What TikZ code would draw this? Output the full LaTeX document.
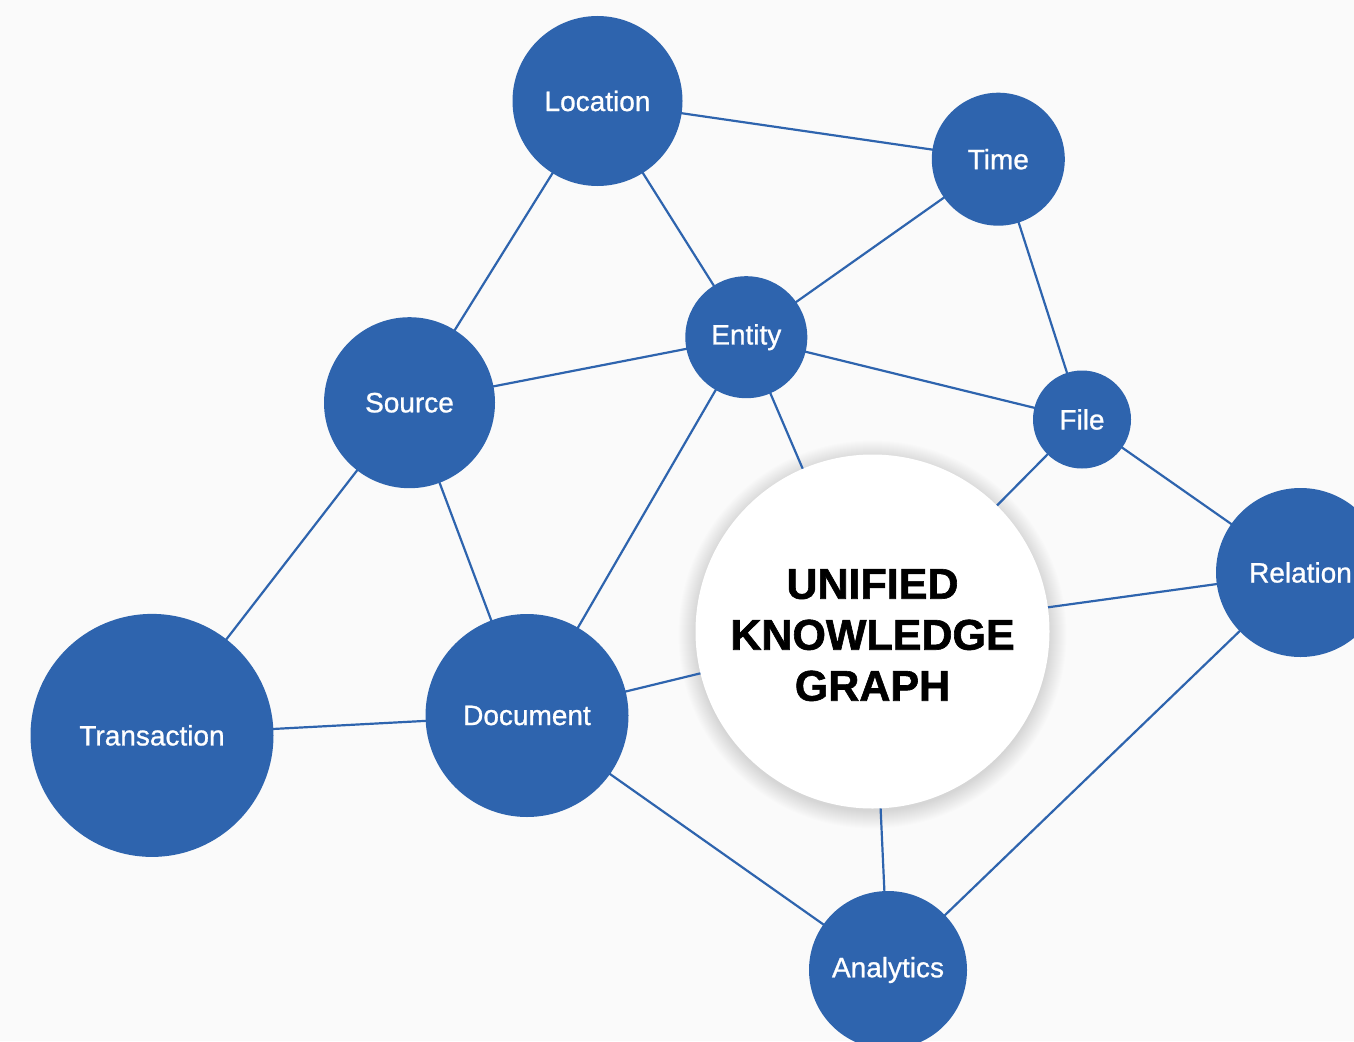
\documentclass[tikz,border=0pt]{standalone}
\usepackage{fontspec}
\setmainfont{Liberation Sans}
\newfontfamily\nodefont[FakeBold=0.9]{Liberation Sans}
\newfontfamily\hubfont[FakeBold=1.4]{Liberation Sans Bold}
\definecolor{nodeblue}{RGB}{46,100,174}
\definecolor{bgcol}{RGB}{250,250,250}
\pgfdeclarelayer{bgzero}
\pgfdeclarelayer{edges}
\pgfsetlayers{bgzero,edges,main}
\tikzset{
  kgnode/.style={circle, fill=nodeblue, inner sep=0pt, text=white,
    font=\nodefont\fontsize{28}{30}\selectfont},
  hubnode/.style={circle, fill=white, inner sep=0pt, align=center,
    font=\hubfont\fontsize{43}{51}\selectfont},
  kgedge/.style={draw=nodeblue, line width=2.2pt}
}
\begin{document}
\begin{tikzpicture}[x=1pt,y=-1pt]
\useasboundingbox (0,0) rectangle (1354,1041);
\begin{pgfonlayer}{bgzero}
\fill[bgcol] (0,0) rectangle (1354,1041);
\end{pgfonlayer}
\node[kgnode, minimum size=170pt] (loc) at (597.5,101) {Location};
\node[kgnode, minimum size=133pt] (time) at (998.3,159.2) {Time};
\node[kgnode, minimum size=122pt] (ent) at (746.3,337.2) {Entity};
\node[kgnode, minimum size=171pt] (src) at (409.5,402.7) {Source};
\node[kgnode, minimum size=98pt] (file) at (1082,419.5) {File};
\node[kgnode, minimum size=169pt] (rel) at (1300.5,572.5) {Relation};
\node[kgnode, minimum size=243pt] (tra) at (152,735.4) {Transaction};
\node[kgnode, minimum size=203pt] (doc) at (527,715.5) {Document};
\node[kgnode, minimum size=158pt] (ana) at (888,970) {Analytics};
\node[hubnode, minimum size=354pt] (hub) at (872.5,631.5) {\raisebox{-8pt}[\height][\depth]{\setlength{\tabcolsep}{0pt}\begin{tabular}{c}UNIFIED\\KNOWLEDGE\\GRAPH\end{tabular}}};
\begin{pgfonlayer}{bgzero}
\foreach \i in {1,...,18} {
  \fill[black, opacity=0.009] ([yshift=-3pt]hub.center) circle[radius=176pt+\i*1pt];
}
\end{pgfonlayer}
\begin{pgfonlayer}{edges}
\draw[kgedge] (loc.center) -- (time.center);
\draw[kgedge] (loc.center) -- (ent.center);
\draw[kgedge] (loc.center) -- (src.center);
\draw[kgedge] (time.center) -- (ent.center);
\draw[kgedge] (time.center) -- (file.center);
\draw[kgedge] (ent.center) -- (src.center);
\draw[kgedge] (ent.center) -- (file.center);
\draw[kgedge] (ent.center) -- (hub.center);
\draw[kgedge] (ent.center) -- (doc.center);
\draw[kgedge] (src.center) -- (tra.center);
\draw[kgedge] (src.center) -- (doc.center);
\draw[kgedge] (file.center) -- (hub.center);
\draw[kgedge] (file.center) -- (rel.center);
\draw[kgedge] (rel.center) -- (hub.center);
\draw[kgedge] (rel.center) -- (ana.center);
\draw[kgedge] (tra.center) -- (doc.center);
\draw[kgedge] (doc.center) -- (hub.center);
\draw[kgedge] (doc.center) -- (ana.center);
\draw[kgedge] (hub.center) -- (ana.center);
\end{pgfonlayer}
\end{tikzpicture}
\end{document}
